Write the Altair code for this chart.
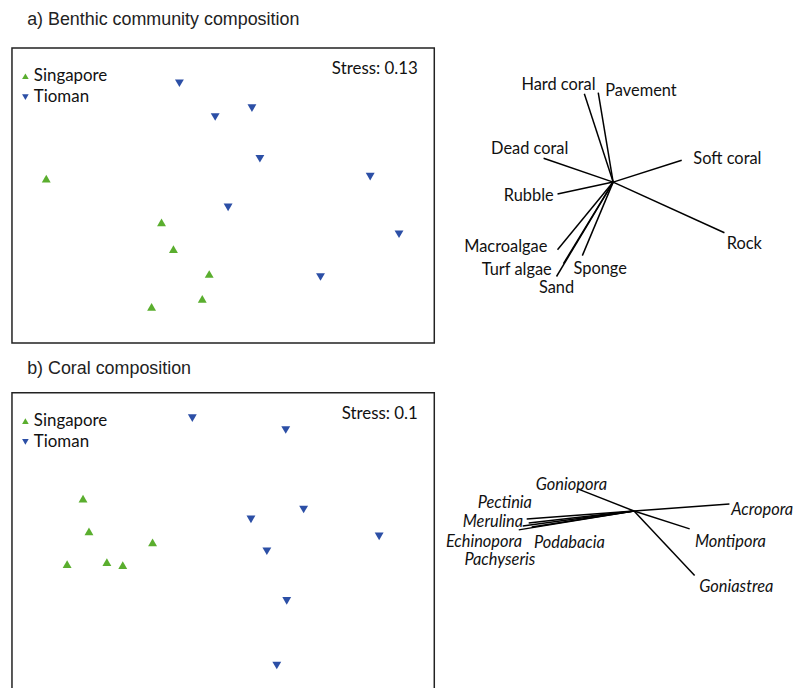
import altair as alt
import pandas as pd

sites = ["Singapore", "Tioman"]
colors = ["#5aae2e", "#2c4fa6"]
shapes = ["triangle-up", "triangle-down"]

# ---- a) Benthic community composition: NMDS site scores ----
a_sg_x = [-1.78, -0.62, -0.50, -0.14, -0.21, -0.72]
a_sg_y = [0.17, -0.27, -0.54, -0.79, -1.04, -1.12]
a_ti_x = [-0.44, 0.29, -0.08, 0.37, 1.48, 0.05, 1.77, 0.98]
a_ti_y = [1.13, 0.88, 0.79, 0.37, 0.19, -0.12, -0.39, -0.82]
a_stress = "Stress: 0.13"

# vectors (benthic categories)
a_vec_names = ["Hard coral", "Pavement", "Dead coral", "Soft coral", "Rubble",
               "Rock", "Macroalgae", "Turf algae", "Sand", "Sponge"]
a_vec_x = [-0.29, -0.15, -0.70, 0.69, -0.56, 1.12, -0.56, -0.50, -0.57, -0.31]
a_vec_y = [0.89, 0.90, 0.24, 0.22, -0.12, -0.51, -0.68, -0.82, -0.95, -0.74]
a_lab_x = [-0.55, 0.28, -0.84, 1.15, -0.85, 1.32, -1.08, -0.97, -0.57, -0.13]
a_lab_y = [0.98, 0.92, 0.33, 0.23, -0.14, -0.62, -0.65, -0.88, -1.07, -0.87]

# ---- b) Coral composition ----
b_sg_x = [-1.41, -1.35, -0.71, -1.57, -1.17, -1.01]
b_sg_y = [0.42, 0.09, -0.02, -0.24, -0.22, -0.25]
b_ti_x = [-0.31, 0.63, 0.81, 0.28, 1.57, 0.44, 0.64, 0.54]
b_ti_y = [1.23, 1.11, 0.31, 0.21, 0.04, -0.11, -0.61, -1.26]
b_stress = "Stress: 0.1"

b_vec_names = ["Acropora", "Goniopora", "Montipora", "Goniastrea", "Pectinia",
               "Merulina", "Echinopora", "Podabacia", "Pachyseris"]
b_vec_x = [0.96, -0.56, 0.56, 0.61, -1.08, -1.06, -1.16, -1.03, -1.12]
b_vec_y = [0.07, 0.22, -0.18, -0.65, -0.08, -0.12, -0.19, -0.16, -0.15]
b_lab_x = [1.29, -0.63, 0.97, 1.03, -1.30, -1.42, -1.51, -0.65, -1.35]
b_lab_y = [0.01, 0.26, -0.31, -0.77, 0.08, -0.11, -0.31, -0.32, -0.49]

FONT = "Lato"
FS = 16.5
SC_W = 425
VEC_W = 330
SC_XDOM = [-2.125, 2.125]


def site_df(sgx, sgy, tix, tiy):
    return pd.DataFrame({
        "x": sgx + tix,
        "y": sgy + tiy,
        "site": ["Singapore"] * len(sgx) + ["Tioman"] * len(tix),
    })


def scatter(df, stress, ydom, height):
    xs = alt.Scale(domain=SC_XDOM, nice=False, zero=False)
    ys = alt.Scale(domain=ydom, nice=False, zero=False)
    leg = alt.Legend(title=None, orient="none", legendX=5, legendY=20,
                     labelFont=FONT, labelFontSize=17, labelColor="#111",
                     symbolSize=44, symbolStrokeWidth=0, rowPadding=3,
                     labelOffset=0, padding=0)
    pts = alt.Chart(df).mark_point(filled=True, size=80, opacity=1).encode(
        x=alt.X("x:Q", scale=xs, axis=None),
        y=alt.Y("y:Q", scale=ys, axis=None),
        color=alt.Color("site:N", scale=alt.Scale(domain=sites, range=colors), legend=leg),
        shape=alt.Shape("site:N", scale=alt.Scale(domain=sites, range=shapes), legend=leg),
    )
    sdf = pd.DataFrame({"x": [1.96], "y": [1.27], "label": [stress]})
    txt = alt.Chart(sdf).mark_text(align="right", baseline="middle", font=FONT,
                                   fontSize=17, color="#111").encode(
        x=alt.X("x:Q", scale=xs, axis=None),
        y=alt.Y("y:Q", scale=ys, axis=None),
        text="label:N",
    )
    return alt.layer(pts, txt).properties(
        width=SC_W, height=height,
        view=alt.ViewBackground(stroke="#222", strokeWidth=1.5),
    )


def vectors(names, vx, vy, lx, ly, xdom, ydom, height, italic):
    df = pd.DataFrame({"name": names, "vx": vx, "vy": vy, "lx": lx, "ly": ly})
    df["ox"] = 0.0
    df["oy"] = 0.0
    xs = alt.Scale(domain=xdom, nice=False, zero=False)
    ys = alt.Scale(domain=ydom, nice=False, zero=False)
    rules = alt.Chart(df).mark_rule(color="black", strokeWidth=1.5).encode(
        x=alt.X("ox:Q", scale=xs, axis=None),
        y=alt.Y("oy:Q", scale=ys, axis=None),
        x2="vx:Q",
        y2="vy:Q",
    )
    labels = alt.Chart(df).mark_text(
        align="center", baseline="middle", font=FONT, fontSize=FS, color="#111",
        fontStyle="italic" if italic else "normal",
    ).encode(
        x=alt.X("lx:Q", scale=xs, axis=None),
        y=alt.Y("ly:Q", scale=ys, axis=None),
        text="name:N",
    )
    return alt.layer(rules, labels).properties(
        width=VEC_W, height=height,
        view=alt.ViewBackground(stroke="transparent"),
    )


def row_title(t, offset):
    return alt.TitleParams(t, anchor="start", dx=16, font="Liberation Sans",
                           fontSize=18, fontWeight="normal", color="#222", offset=offset)


row_a = alt.hconcat(
    scatter(site_df(a_sg_x, a_sg_y, a_ti_x, a_ti_y), a_stress, [-1.485, 1.485], 297),
    vectors(a_vec_names, a_vec_x, a_vec_y, a_lab_x, a_lab_y,
            [-1.68, 1.62], [-1.62, 1.35], 297, False),
    spacing=10, title=row_title("a) Benthic community composition", 18),
).resolve_scale(x="independent", y="independent")

row_b = alt.hconcat(
    scatter(site_df(b_sg_x, b_sg_y, b_ti_x, b_ti_y), b_stress, [-1.585, 1.485], 307),
    vectors(b_vec_names, b_vec_x, b_vec_y, b_lab_x, b_lab_y,
            [-1.87, 1.43], [-1.88, 1.19], 307, True),
    spacing=10, title=row_title("b) Coral composition", 14),
).resolve_scale(x="independent", y="independent")

chart = alt.vconcat(row_a, row_b, spacing=16).resolve_scale(
    x="independent", y="independent", color="independent", shape="independent"
).resolve_legend(color="independent", shape="independent").properties(
    padding={"left": 3, "top": 1, "right": 0, "bottom": 0}
).configure(font=FONT)

chart.save("out.html", embed_options={"renderer": "svg", "actions": False})
